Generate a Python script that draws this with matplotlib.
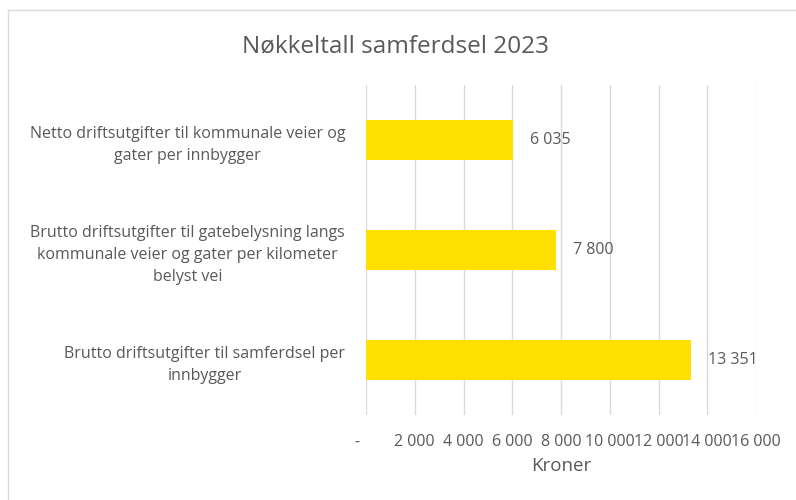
import matplotlib
matplotlib.use("Agg")
from matplotlib import pyplot as plt
from matplotlib.lines import Line2D

kategorier = [
    "Brutto driftsutgifter til samferdsel per\ninnbygger",
    "Brutto driftsutgifter til gatebelysning langs\nkommunale veier og gater per kilometer\nbelyst vei",
    "Netto driftsutgifter til kommunale veier og\ngater per innbygger",
]
verdier = [13351, 7800, 6035]
x_ticks = [0, 2000, 4000, 6000, 8000, 10000, 12000, 14000, 16000]

tekstfarge = "#595959"
plt.rcParams["font.family"] = ["Open Sans", "DejaVu Sans"]


def kr(v):
    if v == 0:
        return "-    "  # excel-aktig: streken står litt til venstre
    return f"{v:,.0f}".replace(",", " ")


fig = plt.figure(figsize=(7.96, 5.0), dpi=100)
ax = fig.add_axes([366 / 796, 1 - 415 / 500, 390 / 796, 330 / 500])

y = range(len(kategorier))
ax.barh(y, verdier, height=0.36, color="#FFE000", zorder=3)
for i, v in zip(y, verdier):
    ax.annotate(kr(v), (v, i), xytext=(12, 0), textcoords="offset points",
                va="center", ha="left", fontsize=11.5, color=tekstfarge)

ax.set_xlim(0, 16000)
ax.set_ylim(-0.5, len(kategorier) - 0.5)
ax.set_xticks(x_ticks)
ax.set_xticklabels([kr(t) for t in x_ticks])
ax.set_yticks(list(y))
ax.set_yticklabels(kategorier, ha="right", multialignment="center", linespacing=1.5)
ax.tick_params(axis="x", length=0, pad=14, labelsize=11.5, labelcolor=tekstfarge)
ax.tick_params(axis="y", length=0, pad=15, labelsize=11.5, labelcolor=tekstfarge)
ax.grid(axis="x", color="#D9D9D9", linewidth=1, zorder=0)
for s in ax.spines.values():
    s.set_visible(False)

ax.set_xlabel("Kroner", fontsize=13.5, color=tekstfarge, labelpad=5)
fig.text(396 / 796, 1 - 46 / 500, "Nøkkeltall samferdsel 2023", ha="center", va="center",
         fontsize=17.5, color=tekstfarge)

# ramme (bare venstre og topp synlig)
fig.add_artist(Line2D([8 / 796, 8 / 796], [0, 1 - 10 / 500], color="#D9D9D9", lw=1))
fig.add_artist(Line2D([8 / 796, 1], [1 - 10 / 500, 1 - 10 / 500], color="#D9D9D9", lw=1))

fig.savefig("out.png", dpi=100)
